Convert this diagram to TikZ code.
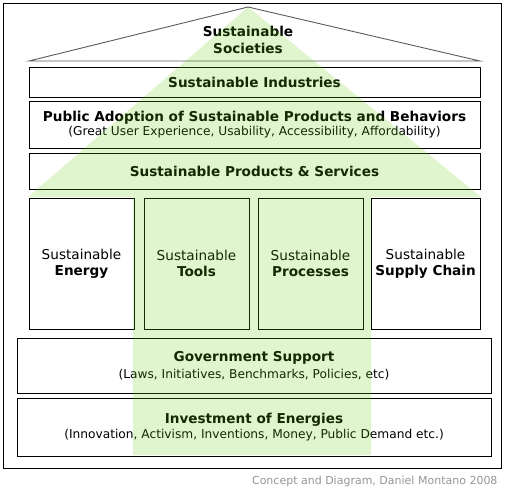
\documentclass[tikz,border=0pt]{standalone}
\usepackage{fontspec}
\setmainfont{DejaVu Sans}
\usetikzlibrary{calc}

\definecolor{arrowgreen}{RGB}{100,205,5}
\definecolor{roofgray}{RGB}{90,90,90}
\definecolor{notegray}{RGB}{150,150,150}

\newcommand\subtxt[1]{{\fontsize{12.2}{14}\selectfont\mdseries #1}}

\begin{document}
\begin{tikzpicture}[x=1pt,y=-1pt]
\useasboundingbox (0,0) rectangle (505,493);

% ---------- parameters ----------
\def\hd{197}   % arrow head base
\def\sl{133}   % shaft left
\def\sr{371}   % shaft right

% ---------- coordinates ----------
\coordinate (apex)  at (248,7);
\coordinate (eaveL) at (29,61);
\coordinate (eaveR) at (480,61);

% ---------- styles ----------
\tikzset{
  frame/.style ={draw=black,line width=1pt},
  roof/.style  ={draw=roofgray,line width=0.9pt},
  band/.style  ={draw=black,line width=1pt,inner sep=0pt,minimum width=451pt,
                 align=center,font=\fontsize{13.6}{16}\selectfont\bfseries},
  footing/.style={band,minimum width=474pt},
  pillar/.style={draw=black,line width=1pt,inner sep=0pt,minimum width=105pt,
                 minimum height=131pt,align=center,font=\fontsize{13.6}{16}\selectfont},
  glow/.style  ={fill=arrowgreen,fill opacity=0.2}
}

% ---------- frame and roof ----------
\draw[frame] (3,3) rectangle (501,468);
\draw[roof] (apex) -- (eaveL) -- (eaveR) -- cycle;
\node[font=\fontsize{13.6}{17}\selectfont\bfseries,align=center] (societies)
  at (248,39.5) {Sustainable\\Societies};

% ---------- bands ----------
\node[band,minimum height=30pt] (industries) at (254.5,82) {Sustainable Industries};
\node[band,minimum height=47pt] (adoption) at (254.5,124.5)
  {Public Adoption of Sustainable Products and Behaviors\\[-1.5pt]
   \subtxt{(Great User Experience, Usability, Accessibility, Affordability)}};
\node[band,minimum height=36pt] (products) at (254.5,171) {Sustainable Products \& Services};

% ---------- pillars ----------
\node[pillar] (energy)    at (81.5,263.5)  {Sustainable\\\textbf{Energy}};
\node[pillar] (tools)     at (196.5,263.5) {Sustainable\\\textbf{Tools}};
\node[pillar] (processes) at (310.5,263.5) {Sustainable\\\textbf{Processes}};
\node[pillar,minimum width=109pt] (supply) at (425.5,263.5) {Sustainable\\\textbf{Supply Chain}};

% ---------- foundations ----------
\node[footing,minimum height=55pt] (government) at (254,365.5)
  {Government Support\\[1pt]\subtxt{(Laws, Initiatives, Benchmarks, Policies, etc)}};
\node[footing,minimum height=58pt] (investment) at (254,427)
  {Investment of Energies\\[-1.5pt]\subtxt{(Innovation, Activism, Inventions, Money, Public Demand etc.)}};

% ---------- arrow (drawn over everything) ----------
\fill[glow] (apex) -- (481,\hd) -- (\sr,\hd) -- (\sr,455) -- (\sl,455)
  -- (\sl,\hd) -- (28,\hd) -- cycle;

% ---------- credit ----------
\node[anchor=east,text=notegray,font=\fontsize{11}{13}\selectfont] (credit)
  at (501,481) {Concept and Diagram, Daniel Montano 2008};

\end{tikzpicture}
\end{document}
